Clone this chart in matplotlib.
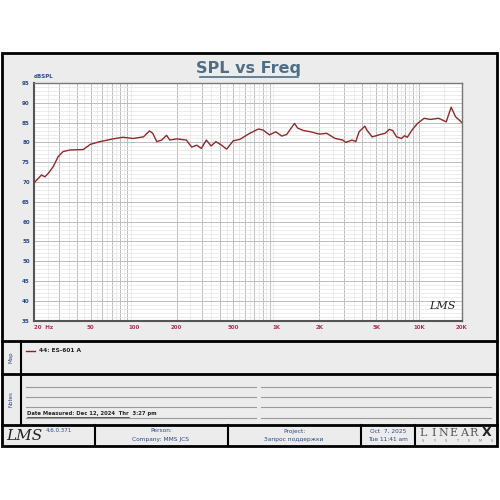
import numpy as np
import matplotlib.pyplot as plt
from matplotlib.patches import Rectangle

# frequenze (Hz) e livello (dBSPL)
freq = [20, 22.6, 23.8, 25.2, 27.3, 29.5, 32, 35.9, 44.3, 46.7, 49.5, 58, 71.8, 84, 99,
        117, 129, 136, 145, 157, 170, 179, 200, 234, 255, 276, 298, 323, 348, 377, 413,
        448, 498, 556, 650, 750, 807, 895, 990, 1090, 1180, 1340, 1410, 1550, 1730, 1900,
        2010, 2250, 2580, 2920, 3060, 3390, 3600, 3800, 4170, 4310, 4690, 5340, 5780, 6190,
        6530, 6960, 7530, 7920, 8270, 9000, 9760, 10850, 12020, 13700, 15500, 16790, 18000, 20000]
spl = [69.8, 71.8, 71.3, 72.2, 73.9, 76.4, 77.7, 78.1, 78.2, 78.8, 79.5, 80.2, 80.9, 81.3, 81.0,
       81.4, 82.9, 82.3, 80.2, 80.6, 81.8, 80.6, 80.9, 80.6, 78.8, 79.3, 78.5, 80.6, 79.1, 80.2, 79.3,
       78.3, 80.4, 80.8, 82.3, 83.4, 83.1, 81.9, 82.7, 81.6, 82.0, 84.8, 83.6, 83.0, 82.7, 82.3,
       82.1, 82.3, 81.0, 80.6, 80.0, 80.6, 80.2, 82.7, 84.1, 83.1, 81.4, 82.0, 82.3, 83.3,
       83.0, 81.4, 81.0, 81.7, 81.3, 83.3, 84.8, 86.1, 85.8, 86.1, 85.2, 88.9, 86.5, 85.0]

xtick_pos = [20, 50, 100, 200, 500, 1000, 2000, 5000, 10000, 20000]
xtick_lab = ['20  Hz', '50', '100', '200', '500', '1K', '2K', '5K', '10K', '20K']
ytick_pos = list(range(35, 96, 5))

W = H = 500
fig = plt.figure(figsize=(5, 5), dpi=100)
fig.patch.set_facecolor('white')

# sfondo in coordinate pixel
bg = fig.add_axes([0, 0, 1, 1])
bg.set_xlim(0, W)
bg.set_ylim(H, 0)
bg.axis('off')

panel = '#ececec'
blu = '#2c4a86'
bg.add_patch(Rectangle((2, 53), 495, 393, facecolor=panel, edgecolor='black', lw=2))
for y in [341, 374, 424.5]:
    bg.plot([2, 497], [y, y], color='black', lw=2)
bg.plot([21, 21], [341, 424.5], color='black', lw=1.5)
for x in [95, 228, 361, 415]:
    bg.plot([x, x], [424.5, 446], color='black', lw=1.5)

# titolo
bg.text(249, 68.5, 'SPL vs Freq', ha='center', va='center', fontsize=11.5,
        fontweight='bold', color='#4d6f86')
bg.plot([200, 298], [76.5, 76.5], color='#4d6f86', lw=1.2)
bg.text(34, 79, 'dBSPL', ha='left', va='bottom', fontsize=4, fontweight='bold', color=blu)

# pannello Map
bg.text(11, 357, 'Map', rotation=90, ha='center', va='center', fontsize=4, color=blu)
bg.plot([26, 35], [350.5, 350.5], color='#9b1c1c', lw=1)
bg.text(39, 350.5, '44: ES-601 A', ha='left', va='center', fontsize=4.2, fontweight='bold', color='#222222')

# pannello Notes
bg.text(11, 399, 'Notes', rotation=90, ha='center', va='center', fontsize=4, color=blu)
for y in [386.7, 397, 407.3, 417.7]:
    bg.plot([26, 256], [y, y], color='#9a9a9a', lw=0.8)
    bg.plot([261, 491], [y, y], color='#9a9a9a', lw=0.8)
bg.text(27, 416.5, 'Date Measured: Dec 12, 2024  Thr  3:27 pm', ha='left', va='bottom',
        fontsize=3.8, fontweight='bold', color='#222222')
bg.plot([27, 129], [417, 417], color='#222222', lw=0.5)

# piede
bg.text(6, 436, 'LMS', ha='left', va='center', fontsize=11, style='italic',
        family='DejaVu Serif', color='#222222')
bg.text(46, 431, '4.6.0.371', ha='left', va='center', fontsize=4, color=blu)
bg.text(161, 431, 'Person:', ha='center', va='center', fontsize=4.2, color=blu)
bg.text(161, 439.5, 'Company: MMS JCS', ha='center', va='center', fontsize=4.2, color=blu)
bg.text(294, 431, 'Project:', ha='center', va='center', fontsize=4.2, color=blu)
bg.text(294, 439.5, 'Запрос поддержки', ha='center', va='center', fontsize=4.2, color=blu)
bg.text(388, 431, 'Oct  7, 2025', ha='center', va='center', fontsize=4.2, color=blu)
bg.text(388, 439.5, 'Tue 11:41 am', ha='center', va='center', fontsize=4.2, color=blu)
for i, c in enumerate('LINEAR'):
    bg.text(423 + i * 10.2, 432.5, c, ha='center', va='center', fontsize=8,
            family='DejaVu Serif', color='#555555')
bg.text(487, 432.5, 'X', ha='center', va='center', fontsize=9, fontweight='bold', color='#222222')
for i, c in enumerate('SYSTEMS'):
    bg.text(423 + i * 11.5, 441.5, c, ha='center', va='center', fontsize=2.5, color='#777777')

# grafico
ax = fig.add_axes([34 / W, 1 - 320.7 / H, 428 / W, 237.7 / H])
ax.set_facecolor('white')
ax.set_xscale('log')
ax.set_xlim(20, 20000)
ax.set_ylim(35, 95)

major_x = [m * d for d in [10, 100, 1000] for m in range(2, 10)] + [10000, 20000]
minor_x = [m * d for d in [10, 100, 1000] for m in [2.5, 3.5, 4.5, 5.5, 6.5, 7.5, 8.5, 9.5]] + [15000]
for x in minor_x:
    ax.axvline(x, color='#e4e4e4', lw=0.5, zorder=0)
for x in major_x:
    ax.axvline(x, color='#bcbcbc', lw=0.7, zorder=0)
for y in range(36, 95):
    if y % 5:
        ax.axhline(y, color='#e4e4e4', lw=0.5, zorder=0)
for y in ytick_pos:
    ax.axhline(y, color='#bcbcbc', lw=0.7, zorder=0)

ax.plot(freq, spl, color='#8e2a2a', lw=1.0, zorder=3)

ax.set_xticks(xtick_pos)
ax.set_xticklabels(xtick_lab)
ax.xaxis.set_minor_locator(plt.NullLocator())
ax.set_yticks(ytick_pos)
ax.tick_params(length=0, labelsize=4, pad=3)
for t in ax.get_xticklabels():
    t.set_color('#b0305a')
    t.set_fontweight('bold')
ax.get_xticklabels()[0].set_ha('left')
for t in ax.get_yticklabels():
    t.set_color(blu)
    t.set_fontweight('bold')
for s in ['left', 'bottom']:
    ax.spines[s].set_color('#555555')
    ax.spines[s].set_linewidth(1.5)
for s in ['top', 'right']:
    ax.spines[s].set_color('#777777')
    ax.spines[s].set_linewidth(1.0)

ax.text(0.985, 0.04, 'LMS', transform=ax.transAxes, ha='right', va='bottom',
        fontsize=8, style='italic', family='DejaVu Serif', color='#222222')

fig.savefig('out.png', dpi=100)
